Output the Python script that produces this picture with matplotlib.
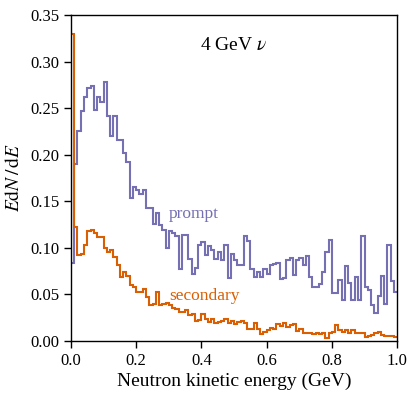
import numpy as np
import matplotlib
matplotlib.use("Agg")
import matplotlib.pyplot as plt
from matplotlib.ticker import FormatStrFormatter

plt.rcParams['font.family'] = ['Liberation Serif', 'DejaVu Serif']
plt.rcParams['mathtext.fontset'] = 'stix'

# 100 bins of 0.01 GeV
edges = np.linspace(0.0, 1.0, 101)

prompt = [
    0.084, 0.190, 0.225, 0.247, 0.262, 0.272, 0.274, 0.248, 0.262, 0.257,
    0.278, 0.242, 0.220, 0.241, 0.216, 0.216, 0.202, 0.192, 0.154, 0.165,
    0.162, 0.158, 0.162, 0.143, 0.143, 0.126, 0.137, 0.125, 0.119, 0.100,
    0.118, 0.116, 0.113, 0.077, 0.114, 0.114, 0.088, 0.072, 0.078, 0.103,
    0.106, 0.092, 0.102, 0.098, 0.088, 0.095, 0.087, 0.103, 0.068, 0.093,
    0.087, 0.082, 0.082, 0.113, 0.107, 0.077, 0.069, 0.074, 0.069, 0.077,
    0.072, 0.082, 0.083, 0.084, 0.067, 0.068, 0.087, 0.089, 0.071, 0.087,
    0.089, 0.082, 0.091, 0.069, 0.058, 0.058, 0.061, 0.074, 0.096, 0.108,
    0.051, 0.051, 0.065, 0.044, 0.080, 0.062, 0.044, 0.069, 0.044, 0.113,
    0.058, 0.055, 0.039, 0.030, 0.048, 0.070, 0.040, 0.103, 0.064, 0.052,
]

secondary = [
    0.330, 0.122, 0.092, 0.093, 0.103, 0.118, 0.119, 0.116, 0.112, 0.112,
    0.100, 0.095, 0.098, 0.090, 0.081, 0.069, 0.074, 0.070, 0.060, 0.058,
    0.053, 0.052, 0.056, 0.047, 0.039, 0.040, 0.052, 0.039, 0.040, 0.041,
    0.039, 0.035, 0.034, 0.031, 0.031, 0.033, 0.028, 0.029, 0.021, 0.022,
    0.029, 0.024, 0.020, 0.023, 0.019, 0.020, 0.021, 0.024, 0.019, 0.021,
    0.018, 0.020, 0.021, 0.019, 0.013, 0.013, 0.019, 0.013, 0.007, 0.010,
    0.012, 0.014, 0.013, 0.018, 0.016, 0.019, 0.015, 0.017, 0.018, 0.011,
    0.013, 0.008, 0.009, 0.008, 0.007, 0.008, 0.007, 0.008, 0.003, 0.008,
    0.010, 0.017, 0.012, 0.010, 0.012, 0.009, 0.012, 0.009, 0.008, 0.008,
    0.004, 0.005, 0.006, 0.009, 0.010, 0.006, 0.005, 0.005, 0.005, 0.004,
]

c_prompt = '#7570b3'
c_secondary = '#d95f02'

fig = plt.figure(figsize=(4.15, 3.95), dpi=100)
ax = fig.add_axes([0.171, 0.137, 0.786, 0.825])

ax.stairs(prompt, edges, color=c_prompt, lw=1.5, baseline=None)
ax.stairs(secondary, edges, color=c_secondary, lw=1.5, baseline=None)

ax.text(0.30, 0.136, 'prompt', color=c_prompt, fontsize=12.5, va='center')
ax.text(0.30, 0.048, 'secondary', color=c_secondary, fontsize=12.5, va='center')
ax.text(0.50, 0.317, r'4 GeV $\nu$', fontsize=14, ha='center', va='center')

ax.set_xlim(0, 1)
ax.set_ylim(0, 0.35)
ax.set_xticks(np.arange(0, 1.01, 0.2))
ax.set_yticks(np.arange(0, 0.351, 0.05))
ax.xaxis.set_major_formatter(FormatStrFormatter('%.1f'))
ax.yaxis.set_major_formatter(FormatStrFormatter('%.2f'))
ax.tick_params(direction='out', length=5, width=1, labelsize=12)
for s in ax.spines.values():
    s.set_linewidth(1.0)

ax.set_xlabel('Neutron kinetic energy (GeV)', fontsize=14, labelpad=3)
ax.set_ylabel(r'$E\mathrm{d}N\,/\,\mathrm{d}E$', fontsize=14, labelpad=5)

fig.savefig('out.png', dpi=100)
